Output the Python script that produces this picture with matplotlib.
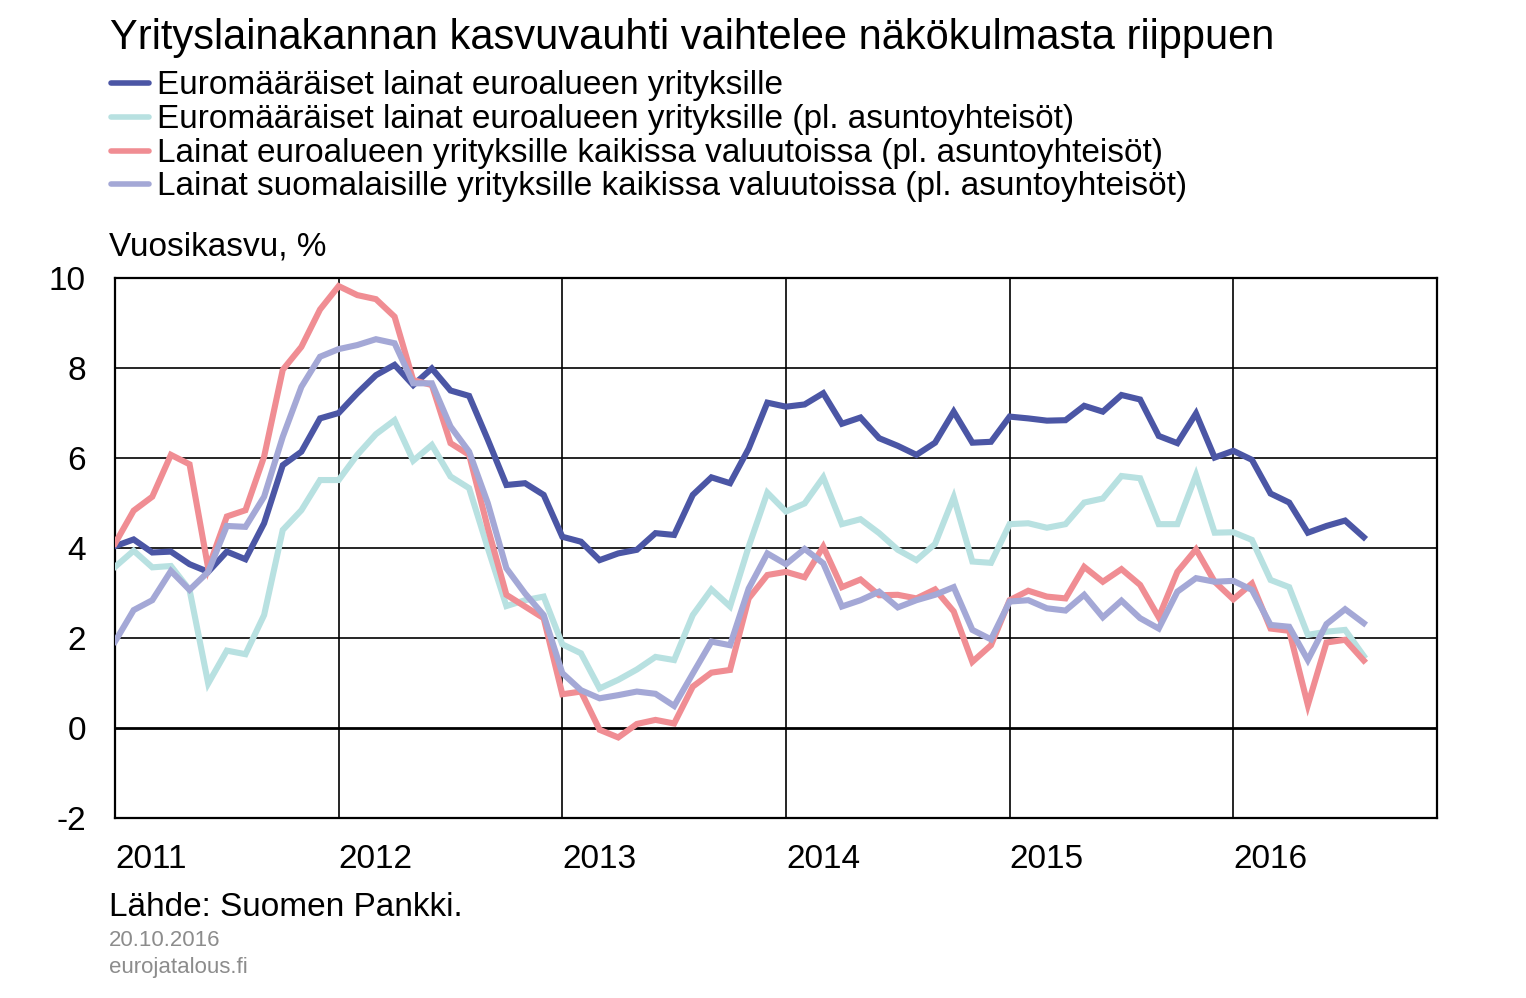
import numpy as np
import matplotlib
matplotlib.use('Agg')
import matplotlib.pyplot as plt
from matplotlib.lines import Line2D

plt.rcParams['font.family'] = ['Liberation Sans', 'DejaVu Sans']
plt.rcParams['axes.unicode_minus'] = False

# monthly data, Jan 2011 - Aug 2016 (vuosikasvu, %)
years = ['2011', '2012', '2013', '2014', '2015', '2016']

euro_all = [4.04, 4.19, 3.90, 3.92, 3.64, 3.47, 3.92, 3.75, 4.55, 5.84,
            6.14, 6.88, 7.00, 7.44, 7.84, 8.07, 7.62, 7.99, 7.50, 7.38,
            6.41, 5.40, 5.44, 5.18, 4.25, 4.14, 3.73, 3.88, 3.96, 4.33,
            4.29, 5.18, 5.57, 5.44, 6.21, 7.23, 7.14, 7.19, 7.44, 6.76,
            6.90, 6.44, 6.27, 6.07, 6.34, 7.03, 6.34, 6.36, 6.92, 6.88,
            6.83, 6.84, 7.16, 7.03, 7.40, 7.30, 6.49, 6.33, 6.99, 6.01,
            6.16, 5.96, 5.21, 5.01, 4.34, 4.49, 4.61, 4.24]

euro_excl = [3.58, 3.94, 3.57, 3.60, 3.07, 0.99, 1.72, 1.64, 2.51, 4.40,
             4.84, 5.51, 5.51, 6.07, 6.53, 6.84, 5.94, 6.29, 5.59, 5.33,
             4.00, 2.71, 2.84, 2.92, 1.86, 1.66, 0.88, 1.07, 1.30, 1.58,
             1.51, 2.51, 3.08, 2.70, 4.03, 5.23, 4.81, 4.99, 5.57, 4.53,
             4.64, 4.33, 3.96, 3.73, 4.09, 5.13, 3.70, 3.67, 4.53, 4.55,
             4.45, 4.53, 5.01, 5.10, 5.60, 5.55, 4.53, 4.53, 5.62, 4.34,
             4.35, 4.18, 3.29, 3.13, 2.07, 2.14, 2.18, 1.60]

ea_allcur = [4.10, 4.83, 5.14, 6.07, 5.86, 3.55, 4.70, 4.84, 6.03, 7.96,
             8.47, 9.30, 9.82, 9.62, 9.53, 9.14, 7.73, 7.62, 6.33, 6.07,
             4.45, 2.96, 2.70, 2.44, 0.75, 0.81, -0.04, -0.21, 0.09, 0.18,
             0.10, 0.92, 1.23, 1.29, 2.88, 3.40, 3.47, 3.35, 4.03, 3.13,
             3.30, 2.95, 2.96, 2.88, 3.08, 2.59, 1.47, 1.84, 2.84, 3.05,
             2.92, 2.88, 3.58, 3.25, 3.53, 3.18, 2.46, 3.47, 3.97, 3.25,
             2.86, 3.21, 2.21, 2.16, 0.51, 1.90, 1.96, 1.50]

fi_allcur = [1.92, 2.62, 2.84, 3.49, 3.07, 3.47, 4.49, 4.47, 5.14, 6.47,
             7.58, 8.25, 8.42, 8.51, 8.64, 8.55, 7.66, 7.66, 6.70, 6.14,
             5.00, 3.55, 2.99, 2.51, 1.22, 0.84, 0.66, 0.73, 0.81, 0.76,
             0.49, 1.21, 1.92, 1.84, 3.10, 3.88, 3.64, 3.98, 3.66, 2.70,
             2.84, 3.03, 2.68, 2.84, 2.96, 3.13, 2.18, 1.97, 2.81, 2.84,
             2.66, 2.61, 2.96, 2.46, 2.83, 2.44, 2.21, 3.03, 3.33, 3.25,
             3.27, 3.07, 2.29, 2.25, 1.51, 2.31, 2.64, 2.33]

labels = ['Euromääräiset lainat euroalueen yrityksille',
          'Euromääräiset lainat euroalueen yrityksille (pl. asuntoyhteisöt)',
          'Lainat euroalueen yrityksille kaikissa valuutoissa (pl. asuntoyhteisöt)',
          'Lainat suomalaisille yrityksille kaikissa valuutoissa (pl. asuntoyhteisöt)']
colors = ['#4b56a5', '#b8e1e1', '#f08d93', '#a4a8d6']
series = [euro_all, euro_excl, ea_allcur, fi_allcur]

W, H = 1526, 998
fig = plt.figure(figsize=(W / 100, H / 100), dpi=100)

def fx(px):
    return px / W

def fy(py):
    return 1 - py / H

ax = fig.add_axes([fx(115), fy(818), fx(1437) - fx(115), fy(278) - fy(818)])

x = np.arange(len(euro_all))
for s, c in zip(series, colors):
    ax.plot(x, s, color=c, lw=4.4, solid_joinstyle='miter', zorder=3)

ax.set_xlim(0.107, 70.93)
ax.set_ylim(-2, 10)
ax.set_yticks(range(-2, 11, 2))
ax.set_xticks(np.arange(len(years)) * 12)
ax.set_xticklabels(years, ha='left')
ax.tick_params(length=0, labelsize=24)
ax.tick_params(axis='x', pad=19)
ax.tick_params(axis='y', pad=21)

for yv in [2, 4, 6, 8]:
    ax.axhline(yv, color='black', lw=1.2, zorder=1)
ax.axhline(0, color='black', lw=2.0, zorder=1)
for xv in [12, 24, 36, 48, 60]:
    ax.axvline(xv, color='black', lw=1.2, zorder=1)
for sp in ax.spines.values():
    sp.set_linewidth(1.6)

# title + legend
fig.text(fx(110), fy(49), 'Yrityslainakannan kasvuvauhti vaihtelee näkökulmasta riippuen',
         fontsize=30, va='baseline', ha='left')
rows = [83.3, 116.7, 150.7, 184.0]
for lab, c, ry in zip(labels, colors, rows):
    fig.add_artist(Line2D([fx(111), fx(149)], [fy(ry), fy(ry)], color=c, lw=4,
                          solid_capstyle='round', transform=fig.transFigure))
    fig.text(fx(157), fy(ry + 11), lab, fontsize=24, va='baseline', ha='left')

fig.text(fx(109), fy(255), 'Vuosikasvu, %', fontsize=24, va='baseline', ha='left')

# footer
fig.text(fx(109), fy(916.5), 'Lähde: Suomen Pankki.', fontsize=24, va='baseline', ha='left')
fig.text(fx(109), fy(946.5), '20.10.2016', fontsize=16, color='#8c8c8c', va='baseline', ha='left')
fig.text(fx(109), fy(972.5), 'eurojatalous.fi', fontsize=16, color='#8c8c8c', va='baseline', ha='left')

fig.savefig('out.png', dpi=100)
